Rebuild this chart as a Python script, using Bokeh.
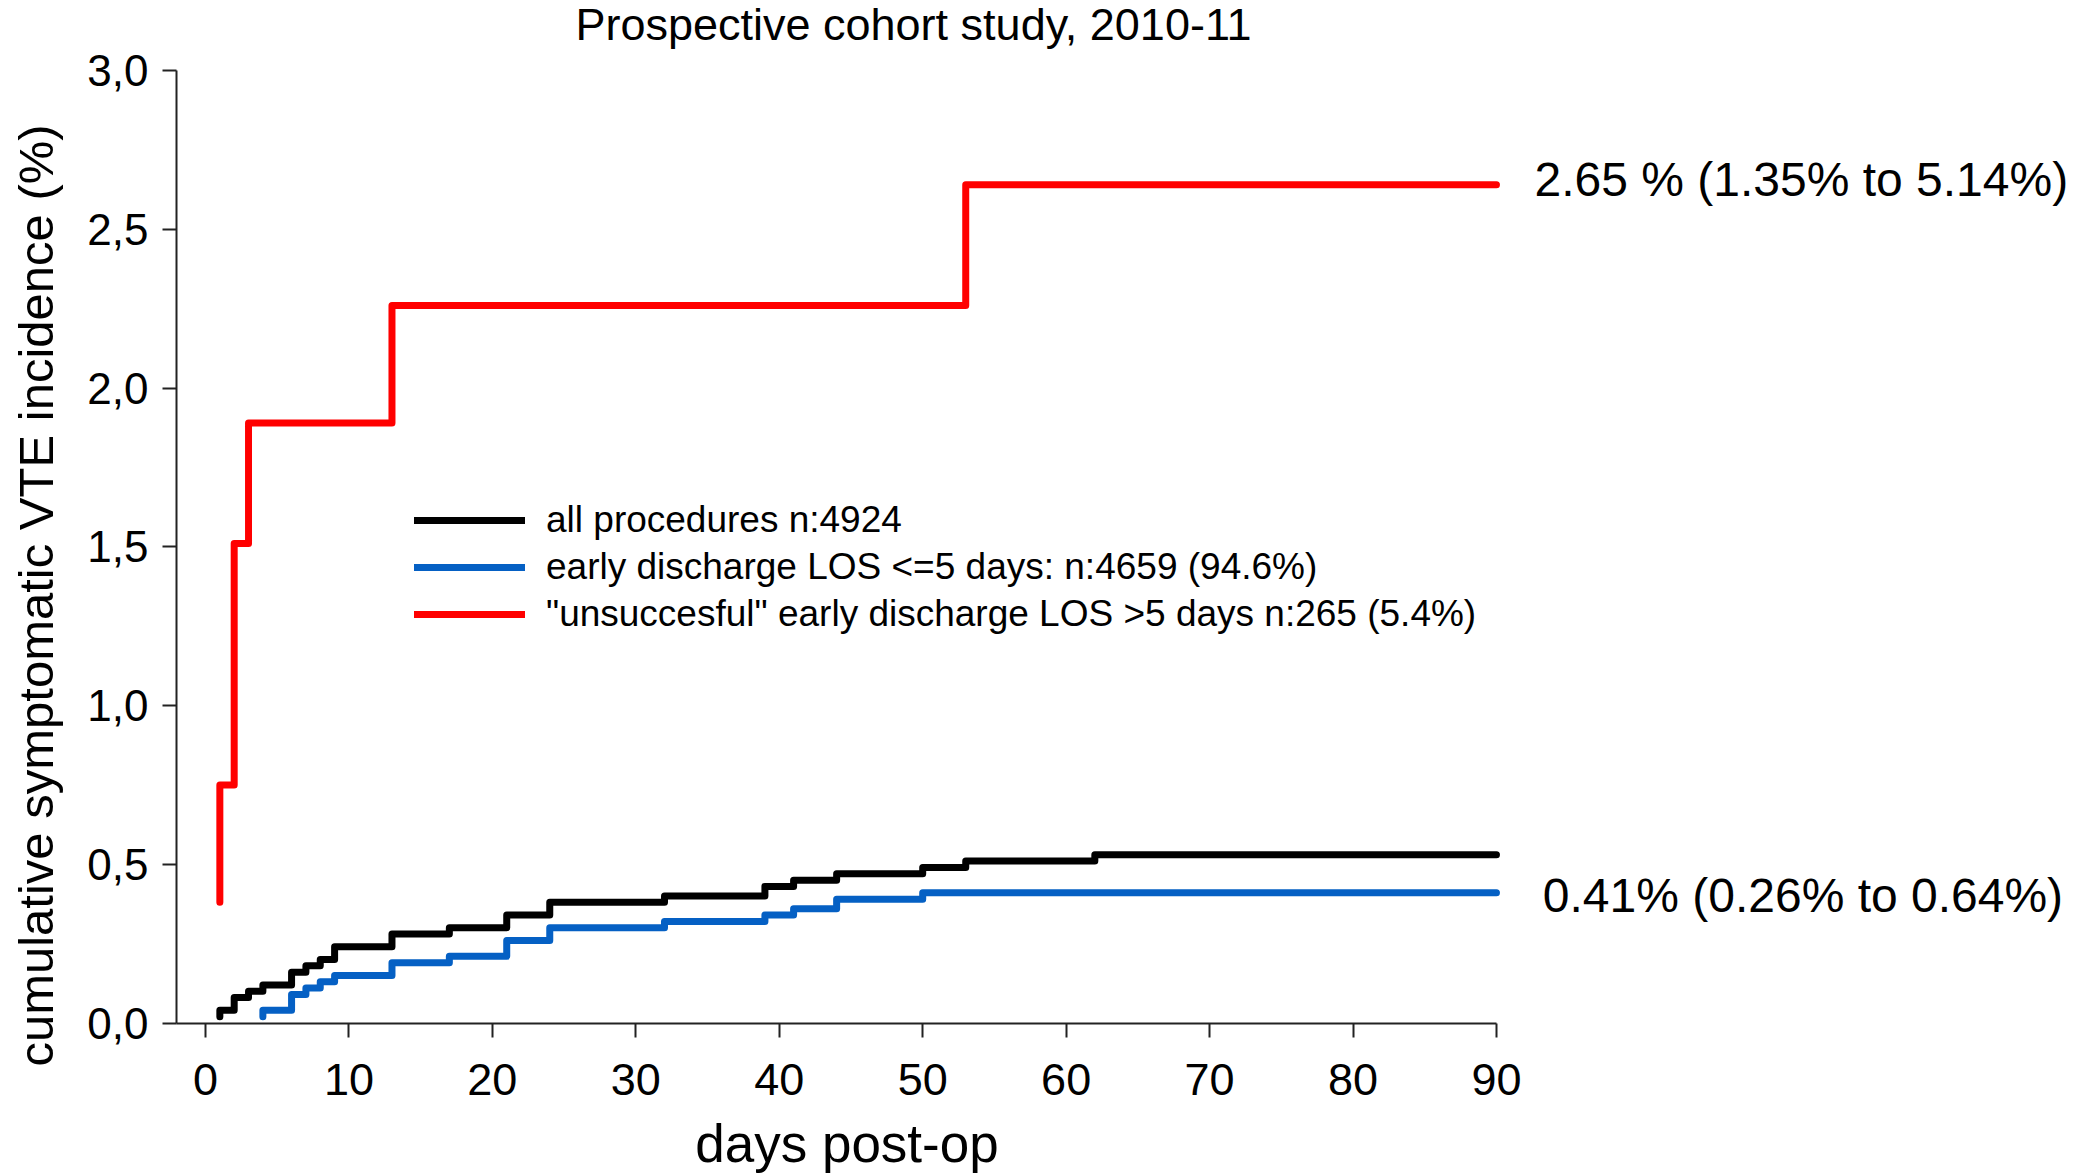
import math
from bokeh.plotting import figure
from bokeh.models import Legend, LegendItem, Label, FixedTicker, Range1d
from bokeh.embed import file_html
from bokeh.resources import INLINE

# ---- data ----
black_days = [1, 1, 2, 3, 4, 6, 7, 8, 9, 13, 17, 21, 24, 32, 39, 41, 44, 50, 53, 62, 90]
black_vals = [0.02, 0.04, 0.08, 0.10, 0.12, 0.16, 0.18, 0.20, 0.24, 0.28, 0.30, 0.34,
              0.38, 0.40, 0.43, 0.45, 0.47, 0.49, 0.51, 0.53, 0.53]

blue_days = [4, 4, 6, 7, 8, 9, 13, 17, 21, 24, 32, 39, 41, 44, 50, 90]
blue_vals = [0.02, 0.04, 0.09, 0.11, 0.13, 0.15, 0.19, 0.21, 0.26, 0.30, 0.32, 0.34,
             0.36, 0.39, 0.41, 0.41]

red_days = [1, 1, 2, 3, 13, 53, 90]
red_vals = [0.38, 0.75, 1.51, 1.89, 2.26, 2.64, 2.64]

legend_labels = ["all procedures n:4924",
                 "early discharge LOS <=5 days: n:4659 (94.6%)",
                 "\"unsuccesful\" early discharge LOS >5 days n:265 (5.4%)"]

title_text = "Prospective cohort study, 2010-11"
red_note = "2.65 % (1.35% to 5.14%)"
blue_note = "0.41% (0.26% to 0.64%)"
x_label = "days post-op"
y_label = "cumulative symptomatic VTE incidence (%)"

x_ticks = [0, 10, 20, 30, 40, 50, 60, 70, 80, 90]
y_ticks = [0.0, 0.5, 1.0, 1.5, 2.0, 2.5, 3.0]
y_tick_labels = ["0,0", "0,5", "1,0", "1,5", "2,0", "2,5", "3,0"]

FONT = "Liberation Sans"

W, H = 2070, 1175
p = figure(width=W, height=H, output_backend="svg", toolbar_location=None,
           x_range=Range1d(-14.292, 130.02), y_range=Range1d(-0.4803, 3.2205),
           min_border_left=0, min_border_right=0, min_border_top=0,
           min_border_bottom=0)
p.outline_line_color = None
p.xgrid.visible = False
p.ygrid.visible = False
p.background_fill_color = "white"

lw = 7
r_black = p.step(black_days, black_vals, mode="after", line_color="black", line_width=lw,
                 line_cap="round", line_join="round")
r_blue = p.step(blue_days, blue_vals, mode="after", line_color="#0560C4", line_width=lw,
                line_cap="round", line_join="round")
r_red = p.step(red_days, red_vals, mode="after", line_color="#FF0000", line_width=lw,
               line_cap="round", line_join="round")

for ax in (p.xaxis[0], p.yaxis[0]):
    ax.axis_line_width = 2
    ax.axis_line_color = "#222222"
    ax.major_tick_line_width = 2
    ax.major_tick_line_color = "#222222"
    ax.major_tick_out = 14
    ax.major_tick_in = 0
    ax.minor_tick_line_color = None
    ax.major_label_text_font = FONT
    ax.major_label_text_color = "black"

# axes drawn at fixed data positions so the whole canvas is the frame
p.xaxis.fixed_location = 0
p.yaxis.fixed_location = -2.02
p.xaxis.bounds = (-2.02, 90)
p.yaxis.bounds = (0, 3.0)
p.xaxis.ticker = FixedTicker(ticks=x_ticks)
p.yaxis.ticker = FixedTicker(ticks=y_ticks)
p.yaxis.major_label_overrides = {t: l for t, l in zip(y_ticks, y_tick_labels)}
p.xaxis.major_label_text_font_size = "45px"
p.yaxis.major_label_text_font_size = "44px"
p.xaxis.major_label_standoff = 27
p.yaxis.major_label_standoff = 14

legend = Legend(items=[LegendItem(label=legend_labels[0], renderers=[r_black]),
                       LegendItem(label=legend_labels[1], renderers=[r_blue]),
                       LegendItem(label=legend_labels[2], renderers=[r_red])],
                location=(414, 540), orientation="vertical",
                border_line_color=None, background_fill_alpha=0,
                padding=0, margin=0, spacing=5,
                glyph_width=111, glyph_height=40, label_height=40,
                label_standoff=21, label_text_font=FONT,
                label_text_font_size="37px", label_text_color="black")
p.add_layout(legend, "center")

def add_text(x, y, text, size, angle=0.0, align="left"):
    p.add_layout(Label(x=x, y=y, text=text, text_font=FONT, text_font_size=size,
                       text_align=align, text_baseline="middle", text_color="black",
                       angle=angle))

add_text(92.65, 2.658, red_note, "48px")
add_text(93.23, 0.401, blue_note, "48px")
add_text(49.36, 3.145, title_text, "45px", align="center")
add_text(44.72, -0.3787, x_label, "53px", align="center")
add_text(-11.85, 1.3465, y_label, "49px", angle=math.pi / 2, align="center")

open("out.html", "w").write(file_html(p, INLINE))
